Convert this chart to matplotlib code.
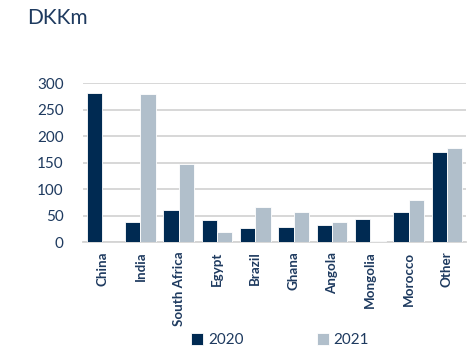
import matplotlib
matplotlib.use("Agg")
import matplotlib.pyplot as plt
import numpy as np

categories = ["China", "India", "South Africa", "Egypt", "Brazil", "Ghana",
              "Angola", "Mongolia", "Morocco", "Other"]
v2020 = [282, 38, 60, 41, 27, 29, 32, 44, 56, 170]
v2021 = [0, 280, 147, 19, 66, 56, 38, 1, 79, 177]
yticks = [0, 50, 100, 150, 200, 250, 300]

navy = "#002a52"
light = "#b1bfcb"
textc = "#1e3a5f"

plt.rcParams['font.family'] = ['Lato', 'DejaVu Sans']

fig = plt.figure(figsize=(4.7, 3.47), dpi=100)
ax = fig.add_axes([83/470, 1-242/347, 383/470, (242-83.3)/347])

x = np.arange(len(categories))
w = 0.4
ax.bar(x - w/2, v2020, w, color=navy, edgecolor="white", linewidth=0.6, label="2020", zorder=3)
ax.bar(x + w/2, v2021, w, color=light, edgecolor="white", linewidth=0.6, label="2021", zorder=3)

ax.set_xlim(-0.5, len(categories) - 0.5)
ax.set_ylim(0, 300)
ax.set_yticks(yticks)
ax.yaxis.grid(True, color="#d4d4d4", linewidth=1.3, zorder=0)
ax.set_axisbelow(True)
for s in ["top", "right", "left"]:
    ax.spines[s].set_visible(False)
ax.spines["bottom"].set_color("#d4d4d4")
ax.spines["bottom"].set_linewidth(1.3)
ax.tick_params(axis="y", length=0, pad=14, labelsize=11, labelcolor=textc)
ax.tick_params(axis="x", length=0, pad=7, labelcolor=textc)
ax.set_xticks(x)
ax.set_xticklabels(categories, rotation=90, fontsize=9.6, fontweight="bold")

fig.text(27/470, 1-18/347, "DKKm", fontsize=15, color=textc, va="center", ha="left")

leg = fig.legend(loc="center", bbox_to_anchor=(280/470, 1-340/347), ncol=2, frameon=False,
                 fontsize=11, handlelength=0.8, handleheight=0.8, handletextpad=0.3,
                 columnspacing=4.8, labelcolor=textc)

fig.savefig("out.png", dpi=100)
